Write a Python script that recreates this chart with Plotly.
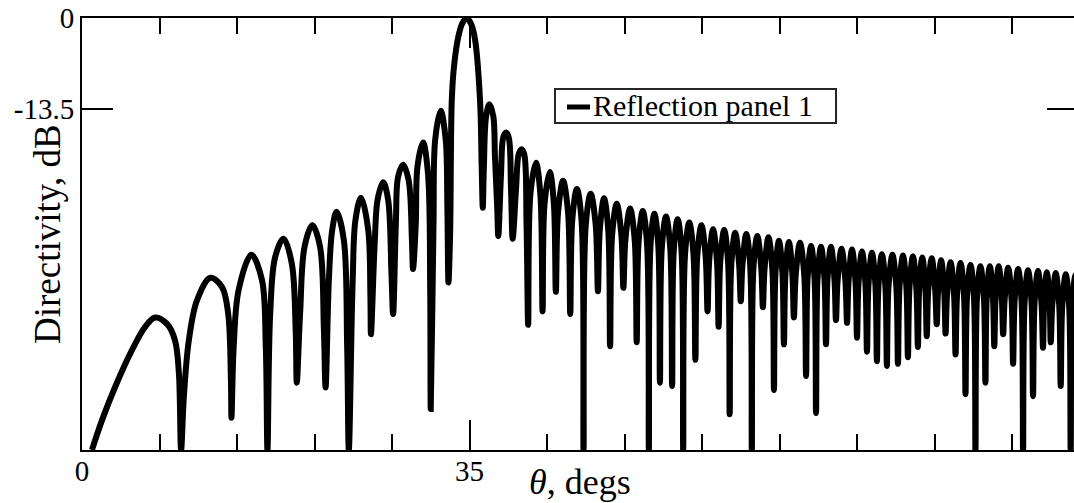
import plotly.graph_objects as go

# Directivity pattern of reflection panel 1 (theta in degrees, level in dB)
# Sidelobes below the main beam
left_theta = [0.9, 1.8, 3.0, 4.5, 5.7, 6.6, 7.7, 8.4, 8.75, 8.95,
              9.2, 9.65, 10.4, 11.6, 12.65, 13.2, 13.45, 13.5,
              13.7, 14.15, 15.3, 16.25, 16.6, 16.75,
              17.0, 17.45, 18.2, 18.95, 19.3, 19.4,
              19.7, 20.1, 20.8, 21.5, 21.85, 22.0,
              22.3, 22.6, 23.0, 23.65, 23.95, 24.1,
              24.45, 24.7, 25.2, 25.85, 26.05, 26.1,
              26.45, 26.7, 27.2, 27.65, 27.95, 28.1,
              28.35, 28.55, 29.0, 29.5, 29.8, 29.9,
              30.15, 30.3, 30.8, 31.25, 31.45, 31.5,
              31.75, 31.9, 32.4, 32.85, 33.0, 33.1]
left_db = [-64.2, -59.8, -54.8, -49.4, -45.9, -44.5, -45.5, -47.9, -52.8, -64.2,
           -56.3, -47.9, -41.9, -38.6, -40.0, -43.9, -53.8, -59.4,
           -48.9, -40.4, -35.2, -38.9, -48.9, -64.2,
           -43.9, -35.5, -32.8, -36.5, -46.4, -54.2,
           -43.9, -34.0, -30.8, -34.0, -46.4, -54.9,
           -38.9, -31.5, -28.8, -33.0, -48.9, -64.2,
           -38.9, -30.0, -26.7, -31.5, -41.4, -47.0,
           -33.0, -27.0, -24.4, -27.0, -37.9, -44.0,
           -30.5, -23.6, -21.8, -24.1, -33.0, -37.3,
           -30.5, -22.1, -18.5, -23.1, -40.4, -58.1,
           -30.5, -18.1, -13.8, -18.1, -28.0, -39.3]

# Main beam
main_theta = [33.25, 33.4, 33.6, 34.0, 34.35, 34.75, 35.15, 35.5, 35.95, 36.1, 36.2]
main_db = [-31.9, -12.2, -7.2, -2.7, -0.8, 0.0, -0.9, -3.2, -12.2, -22.1, -28.2]

# Sidelobes above the main beam
right_theta = [36.3, 36.5, 36.8, 37.15, 37.3, 37.5, 37.6,
               37.85, 38.05, 38.3, 38.55, 38.75, 38.9,
               39.2, 39.45, 39.7, 39.95, 40.15, 40.3,
               40.5, 41.0, 41.4, 41.6,
               41.78, 42.25, 42.62, 42.8,
               43.0, 43.45, 43.9, 44.1,
               44.28, 44.7, 45.12, 45.3,
               45.5, 45.95, 46.4, 46.6,
               46.77, 47.15, 47.53, 47.7,
               47.88, 48.3, 48.72, 48.9,
               49.08, 49.5, 49.92, 50.1,
               50.27, 50.65, 51.03, 51.2,
               51.35, 51.7, 52.05, 52.2,
               52.37, 52.75, 53.13, 53.3,
               53.45, 53.8, 54.15, 54.3,
               54.47, 54.85, 55.23, 55.4,
               55.57, 55.95, 56.33, 56.5,
               56.65, 57.0, 57.35, 57.5,
               57.65, 58.0, 58.35, 58.5,
               58.65, 59.0, 59.35, 59.5,
               59.65, 60.0, 60.35, 60.5,
               60.65, 61.0, 61.35, 61.5,
               61.65, 62.0, 62.35, 62.5,
               62.64, 62.95, 63.26, 63.4,
               63.54, 63.85, 64.16, 64.3,
               64.47, 64.85, 65.23, 65.4,
               65.54, 65.85, 66.16, 66.3,
               66.44, 66.75, 67.06, 67.2,
               67.34, 67.65, 67.96, 68.1,
               68.25, 68.6, 68.95, 69.1,
               69.24, 69.55, 69.86, 70.0,
               70.14, 70.45, 70.76, 70.9,
               71.04, 71.35, 71.66, 71.8,
               71.94, 72.25, 72.56, 72.7,
               72.85, 73.2, 73.55, 73.7,
               73.84, 74.15, 74.46, 74.6,
               74.74, 75.05, 75.36, 75.5,
               75.62, 75.9, 76.18, 76.3,
               76.44, 76.75, 77.06, 77.2,
               77.32, 77.6, 77.88, 78.0,
               78.14, 78.45, 78.76, 78.9,
               79.04, 79.35, 79.66, 79.8,
               79.94, 80.25, 80.56, 80.7,
               80.84, 81.15, 81.46, 81.6,
               81.72, 82.0, 82.28, 82.4,
               82.52, 82.8, 83.08, 83.2,
               83.34, 83.65, 83.96, 84.1,
               84.24, 84.55, 84.86, 85.0,
               85.14, 85.45, 85.76, 85.9,
               86.04, 86.35, 86.66, 86.8,
               86.9, 87.15, 87.4, 87.5,
               87.64, 87.95, 88.26, 88.4,
               88.54, 88.85, 89.16, 89.3,
               89.44, 89.75, 90.0]
right_db = [-22.1, -14.6, -12.8, -14.6, -20.6, -28.0, -32.4,
            -23.1, -17.7, -17.0, -17.8, -25.5, -32.8,
            -25.5, -20.2, -19.5, -20.3, -30.5, -45.6,
            -26.2, -21.5, -26.2, -43.6,
            -27.6, -22.9, -27.6, -40.7,
            -28.9, -24.2, -28.9, -44.0,
            -30.1, -25.4, -30.1, -64.2,
            -30.8, -26.1, -30.8, -40.6,
            -31.5, -26.8, -31.5, -48.8,
            -32.3, -27.6, -32.3, -40.1,
            -33.0, -28.3, -33.0, -48.2,
            -33.4, -28.7, -33.4, -64.2,
            -33.8, -29.1, -33.8, -54.2,
            -34.2, -29.5, -34.2, -54.7,
            -34.6, -29.9, -34.6, -64.2,
            -35.1, -30.4, -35.1, -50.8,
            -35.5, -30.8, -35.5, -43.6,
            -36.1, -31.4, -36.1, -45.9,
            -36.2, -31.5, -36.2, -58.9,
            -36.6, -31.9, -36.6, -42.1,
            -36.8, -32.1, -36.8, -64.2,
            -37.1, -32.4, -37.1, -43.0,
            -37.3, -32.6, -37.3, -55.3,
            -37.8, -33.1, -37.8, -48.5,
            -38.0, -33.3, -38.0, -44.5,
            -38.1, -33.4, -38.1, -53.2,
            -38.6, -33.9, -38.6, -58.7,
            -38.7, -34.0, -38.7, -48.5,
            -38.7, -34.0, -38.7, -44.9,
            -39.0, -34.3, -39.0, -45.3,
            -39.1, -34.4, -39.1, -47.5,
            -39.4, -34.7, -39.4, -49.6,
            -39.6, -34.9, -39.6, -51.0,
            -39.8, -35.1, -39.8, -51.7,
            -39.9, -35.2, -39.9, -51.4,
            -40.0, -35.3, -40.0, -50.4,
            -40.1, -35.4, -40.1, -48.9,
            -40.3, -35.6, -40.3, -47.3,
            -40.4, -35.7, -40.4, -45.5,
            -40.7, -36.0, -40.7, -46.9,
            -41.0, -36.3, -41.0, -50.0,
            -41.1, -36.4, -41.1, -55.9,
            -41.4, -36.7, -41.4, -64.2,
            -41.6, -36.9, -41.6, -54.2,
            -41.6, -36.9, -41.6, -48.8,
            -41.6, -36.9, -41.6, -47.0,
            -41.8, -37.1, -41.8, -51.4,
            -42.0, -37.3, -42.0, -64.2,
            -42.2, -37.5, -42.2, -56.2,
            -42.3, -37.6, -42.3, -49.0,
            -42.5, -37.8, -42.5, -48.2,
            -42.6, -37.9, -42.6, -54.7,
            -42.8, -38.1, -42.8, -64.2,
            -42.9, -38.2, -40.0]

x_ticks = [0, 35]
x_ticklabels = ["0", "35"]
y_ticks = [0, -13.5]
y_ticklabels = ["0", "-13.5"]
x_range = [0, 89.6]
y_range = [-64.2, 0]
series_name = "Reflection panel 1"

FONT = "Liberation Serif"

theta = left_theta + main_theta + right_theta
level = left_db + main_db + right_db

fig = go.Figure()
fig.add_trace(go.Scatter(
    x=theta, y=level, mode="lines", name=series_name,
    line=dict(color="black", width=6, shape="spline", smoothing=1),
    hoverinfo="skip", showlegend=False,
))
# empty trace so the right-hand tick axis is drawn
fig.add_trace(go.Scatter(x=[], y=[], yaxis="y2", showlegend=False, hoverinfo="skip"))

# legend box: frame, line sample and label (paper coordinates)
legend_x0, legend_x1 = 0.4768, 0.7601
legend_y0, legend_y1 = 0.7569, 0.8356
fig.add_shape(type="rect", xref="paper", yref="paper",
              x0=legend_x0, x1=legend_x1, y0=legend_y0, y1=legend_y1,
              line=dict(color="#262626", width=2), fillcolor="white", layer="above")
fig.add_shape(type="line", xref="paper", yref="paper",
              x0=0.4889, x1=0.5121, y0=0.794, y1=0.794,
              line=dict(color="black", width=5), layer="above")
fig.add_annotation(text=series_name, xref="paper", yref="paper",
                   x=0.5131, y=0.7963, xanchor="left", yanchor="middle",
                   showarrow=False, font=dict(family=FONT, size=30, color="black"))

fig.update_layout(
    width=1074, height=503,
    margin=dict(l=82, r=0, t=18, b=53),
    paper_bgcolor="white", plot_bgcolor="white",
    font=dict(family=FONT, size=29, color="black"),
    showlegend=False,
    xaxis=dict(
        range=x_range, tickvals=x_ticks, ticktext=x_ticklabels,
        ticks="inside", ticklen=30, tickwidth=2, tickcolor="black",
        minor=dict(dtick=7, tick0=0, ticks="inside", ticklen=16,
                   tickwidth=2, tickcolor="black"),
        showline=True, linewidth=2, linecolor="black", mirror="ticks",
        showgrid=False, zeroline=False, ticklabelstandoff=-6,
        tickfont=dict(family=FONT, size=29, color="black"),
    ),
    yaxis=dict(
        range=y_range, tickvals=y_ticks, ticktext=y_ticklabels,
        ticks="inside", ticklen=31, tickwidth=2, tickcolor="black",
        showline=True, linewidth=2, linecolor="black",
        showgrid=False, zeroline=False,
        tickfont=dict(family=FONT, size=29, color="black"),
    ),
    yaxis2=dict(
        range=y_range, tickvals=y_ticks, overlaying="y", side="right",
        ticks="inside", ticklen=27, tickwidth=2, tickcolor="black",
        showticklabels=False, showline=False, showgrid=False, zeroline=False,
    ),
)
fig.add_annotation(text="<i>θ</i>, degs", xref="paper", yref="paper",
                   x=0.502, y=-0.074, xanchor="center", yanchor="middle",
                   showarrow=False, font=dict(family=FONT, size=36, color="black"))
fig.add_annotation(text="Directivity, dB", xref="paper", yref="paper",
                   x=-0.0353, y=0.5, xanchor="center", yanchor="middle",
                   textangle=-90, showarrow=False,
                   font=dict(family=FONT, size=37, color="black"))

fig.write_html("out.html")
